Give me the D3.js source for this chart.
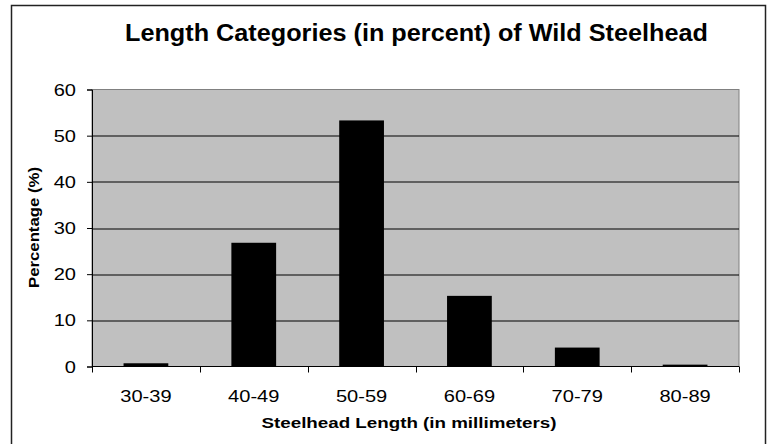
<!DOCTYPE html>
<html>
<head>
<meta charset="utf-8">
<script src="https://cdn.jsdelivr.net/npm/d3@7"></script>
<style>
  body { margin: 0; background: #fff; }
  svg { display: block; font-family: Arial, "Liberation Sans", sans-serif; }
</style>
</head>
<body>
<svg id="chart" width="771" height="444"></svg>
<script>
// chart data
const categories = ['30-39', '40-49', '50-59', '60-69', '70-79', '80-89'];
const percentages = [0.7, 26.8, 53.3, 15.3, 4.1, 0.4];
const yTicks = [0, 10, 20, 30, 40, 50, 60];

const chartTitle = 'Length Categories (in percent) of Wild Steelhead';
const xTitle = 'Steelhead Length (in millimeters)';
const yTitle = 'Percentage (%)';

const W = 771;
const H = 444;
const margin = { top: 89.5, right: 32, bottom: 77.5, left: 92 };
const plotW = W - margin.left - margin.right;
const plotH = H - margin.top - margin.bottom;
const labelStretch = 1.18; // the original text is drawn a bit wide

const svg = d3.select('#chart');

// outer chart-area frame (runs off the bottom of the picture)
svg.append('rect')
  .attr('x', 11.5)
  .attr('y', 5.5)
  .attr('width', 754)
  .attr('height', 470)
  .attr('fill', 'none')
  .attr('stroke', '#222')
  .attr('stroke-width', 1.5);

svg.append('text')
  .attr('x', 416.5)
  .attr('y', 41)
  .attr('text-anchor', 'middle')
  .attr('font-size', 23)
  .attr('font-weight', 'bold')
  .attr('textLength', 583)
  .attr('lengthAdjust', 'spacingAndGlyphs')
  .text(chartTitle);

const g = svg.append('g')
  .attr('transform', `translate(${margin.left},${margin.top})`);

const x = d3.scaleBand()
  .domain(categories)
  .range([0, plotW])
  .paddingInner(0.585)
  .paddingOuter(0.2925);

const y = d3.scaleLinear()
  .domain([0, 60])
  .range([plotH, 0]);

// plot area
g.append('rect')
  .attr('width', plotW)
  .attr('height', plotH)
  .attr('fill', '#c0c0c0')
  .attr('stroke', '#808080')
  .attr('stroke-width', 1);

// gridlines
g.append('g')
  .selectAll('line')
  .data(yTicks.filter((t) => t > 0 && t < 60))
  .join('line')
  .attr('x1', 0)
  .attr('x2', plotW)
  .attr('y1', (d) => Math.round(y(d)) + 0.5)
  .attr('y2', (d) => Math.round(y(d)) + 0.5)
  .attr('stroke', '#000')
  .attr('stroke-width', 1);

// bars
g.append('g')
  .selectAll('rect')
  .data(percentages)
  .join('rect')
  .attr('x', (d, i) => x(categories[i]))
  .attr('y', (d) => y(d))
  .attr('width', x.bandwidth())
  .attr('height', (d) => plotH - y(d))
  .attr('fill', '#000');

// y axis
const yAxis = g.append('g')
  .call(d3.axisLeft(y).tickValues(yTicks).tickSize(5).tickFormat(''));
yAxis.select('.domain').attr('stroke', '#000');
yAxis.selectAll('.tick line').attr('stroke', '#000');
yAxis.selectAll('.tick text').remove();
g.append('g')
  .selectAll('text')
  .data(yTicks)
  .join('text')
  .attr('transform', (d) => `translate(-16,${y(d)}) scale(${labelStretch},1)`)
  .attr('dy', '0.36em')
  .attr('text-anchor', 'end')
  .attr('font-size', 17)
  .text((d) => d);

// x axis: ticks sit on the category boundaries
const boundaries = d3.range(categories.length + 1).map((i) => i * x.step());
const xAxis = g.append('g').attr('transform', `translate(0,${plotH})`);
xAxis.append('line')
  .attr('x1', 0)
  .attr('x2', plotW)
  .attr('y1', 0)
  .attr('y2', 0)
  .attr('stroke', '#000');
xAxis.selectAll('.xtick')
  .data(boundaries)
  .join('line')
  .attr('class', 'xtick')
  .attr('x1', (d) => Math.round(d) + 0.5)
  .attr('x2', (d) => Math.round(d) + 0.5)
  .attr('y1', 0)
  .attr('y2', 6)
  .attr('stroke', '#000');
xAxis.selectAll('.xlabel')
  .data(categories)
  .join('text')
  .attr('class', 'xlabel')
  .attr('transform', (d) => `translate(${x(d) + x.bandwidth() / 2},35) scale(${labelStretch},1)`)
  .attr('text-anchor', 'middle')
  .attr('font-size', 17)
  .text((d) => d);

svg.append('text')
  .attr('x', 409)
  .attr('y', 428)
  .attr('text-anchor', 'middle')
  .attr('font-size', 14)
  .attr('font-weight', 'bold')
  .attr('textLength', 295)
  .attr('lengthAdjust', 'spacingAndGlyphs')
  .text(xTitle);

svg.append('text')
  .attr('transform', `translate(39,227.5) rotate(-90)`)
  .attr('text-anchor', 'middle')
  .attr('font-size', 14)
  .attr('font-weight', 'bold')
  .attr('textLength', 121)
  .attr('lengthAdjust', 'spacingAndGlyphs')
  .text(yTitle);
</script>
</body>
</html>
